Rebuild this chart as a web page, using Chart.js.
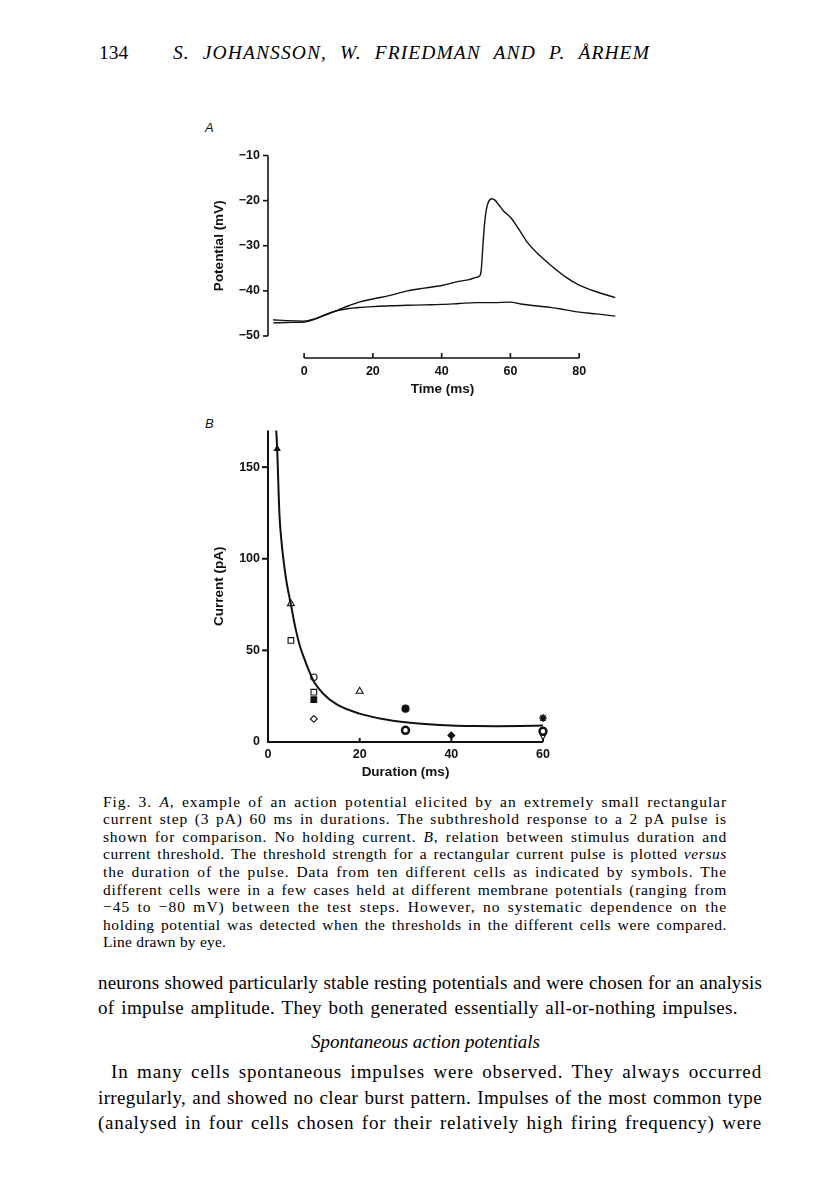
<!DOCTYPE html>
<html><head><meta charset="utf-8">
<script src="https://cdn.jsdelivr.net/npm/chart.js@4.4.1/dist/chart.umd.min.js"></script>
<style>
html,body{margin:0;padding:0;background:#fff;}
body{width:816px;height:1203px;position:relative;overflow:hidden;}
.t{position:absolute;white-space:nowrap;color:#000;font-family:"Liberation Serif","Times New Roman",serif;}
.hd{font-size:19.5px;line-height:22px;}
.cap{font-size:15.5px;line-height:17.5px;}
.bd{font-size:19px;line-height:22px;}
canvas{position:absolute;}
.plab{position:absolute;font-family:"Liberation Sans",Arial,sans-serif;font-style:italic;font-size:13px;line-height:15px;color:#111;}
</style></head><body>

<div class="t hd" style="left:99px;top:41.5px;">134</div>
<div class="t hd" style="left:173px;top:41.5px;font-style:italic;" data-w="477" data-ls="0.5">S. JOHANSSON, W. FRIEDMAN AND P. ÅRHEM</div>

<div class="plab" style="left:205px;top:120px;">A</div>
<canvas id="chartA" width="440" height="257" style="left:200px;top:140px;"></canvas>

<div class="plab" style="left:205px;top:416px;">B</div>
<canvas id="chartB" width="380" height="365" style="left:200px;top:415px;"></canvas>

<div class="t cap" style="left:103px;top:792.5px;" data-w="624">Fig. 3. <i>A</i>, example of an action potential elicited by an extremely small rectangular</div>
<div class="t cap" style="left:103px;top:810.1px;" data-w="624">current step (3 pA) 60 ms in durations. The subthreshold response to a 2 pA pulse is</div>
<div class="t cap" style="left:103px;top:827.7px;" data-w="624">shown for comparison. No holding current. <i>B</i>, relation between stimulus duration and</div>
<div class="t cap" style="left:103px;top:845.3px;" data-w="624">current threshold. The threshold strength for a rectangular current pulse is plotted <i>versus</i></div>
<div class="t cap" style="left:103px;top:862.9px;" data-w="624">the duration of the pulse. Data from ten different cells as indicated by symbols. The</div>
<div class="t cap" style="left:103px;top:880.5px;" data-w="624">different cells were in a few cases held at different membrane potentials (ranging from</div>
<div class="t cap" style="left:103px;top:898.1px;" data-w="624">−45 to −80 mV) between the test steps. However, no systematic dependence on the</div>
<div class="t cap" style="left:103px;top:915.7px;" data-w="624">holding potential was detected when the thresholds in the different cells were compared.</div>
<div class="t cap" style="left:103px;top:933.3px;" data-w="123">Line drawn by eye.</div>

<div class="t bd" style="left:98px;top:971.9px;" data-w="664">neurons showed particularly stable resting potentials and were chosen for an analysis</div>
<div class="t bd" style="left:98px;top:996.9px;" data-w="640">of impulse amplitude. They both generated essentially all-or-nothing impulses.</div>
<div class="t bd" style="left:311px;top:1030.9px;font-style:italic;" data-w="229">Spontaneous action potentials</div>
<div class="t bd" style="left:111px;top:1060.9px;" data-w="651">In many cells spontaneous impulses were observed. They always occurred</div>
<div class="t bd" style="left:98px;top:1086.9px;" data-w="664">irregularly, and showed no clear burst pattern. Impulses of the most common type</div>
<div class="t bd" style="left:98px;top:1111.9px;" data-w="664">(analysed in four cells chosen for their relatively high firing frequency) were</div>

<script>
// ---------- Panel A data ----------
const timeTicks = [0, 20, 40, 60, 80];
const potentialTicks = [-10, -20, -30, -40, -50];
const apTime = [-9, -5, 0, 3, 6, 10, 13, 16, 20, 25, 30, 35, 40, 45, 48, 50, 51, 51.5, 52, 52.5, 53, 53.5, 54.5, 55.5, 56.5, 58, 60, 62, 65, 68, 72, 76, 80, 85, 90.5];
const apPotential = [-47.1, -47.0, -46.9, -46.3, -45.4, -44.2, -43.3, -42.5, -41.8, -41.0, -40.0, -39.4, -38.8, -37.9, -37.5, -37.0, -36.7, -35.5, -30, -25, -22, -20.5, -19.6, -19.9, -20.8, -22.3, -23.7, -25.8, -29.3, -31.8, -34.5, -36.9, -38.7, -40.2, -41.5];
const subTime = [-9, -5, 0, 3, 6, 10, 13, 16, 20, 25, 30, 35, 40, 45, 50, 55, 60, 63, 67, 72, 76, 80, 85, 90.5];
const subPotential = [-46.4, -46.6, -46.7, -46.2, -45.3, -44.3, -43.9, -43.7, -43.5, -43.3, -43.2, -43.1, -43.0, -42.8, -42.6, -42.6, -42.5, -42.9, -43.3, -43.7, -44.2, -44.7, -45.1, -45.6];

// ---------- Panel B data ----------
const durationTicks = [0, 20, 40, 60];
const currentTicks = [0, 50, 100, 150];
const fitDuration = [1.8, 2, 2.5, 3, 3.5, 4, 5, 6, 7, 8, 9, 10, 12, 15, 20, 25, 30, 35, 40, 45, 50, 55, 60];
const fitCurrent = [170, 160, 124, 108, 97, 88, 75, 62, 52, 45, 38.5, 33, 26.5, 20.5, 15.5, 12.6, 10.8, 9.7, 9.0, 8.7, 8.6, 8.7, 9.0];
const cellFilledTriangleDur = [2], cellFilledTriangleCur = [160];
const cellOpenTriangleDur = [5, 20], cellOpenTriangleCur = [75.5, 27.7];
const cellOpenSquareDur = [5, 10], cellOpenSquareCur = [55.4, 27.2];
const cellOpenCircleDur = [10], cellOpenCircleCur = [35.4];
const cellFilledSquareDur = [10], cellFilledSquareCur = [23.1];
const cellOpenDiamondDur = [10], cellOpenDiamondCur = [12.6];
const cellFilledCircleDur = [30], cellFilledCircleCur = [18.2];
const cellRingDur = [30, 60], cellRingCur = [6.4, 5.8];
const cellFilledDiamondDur = [40], cellFilledDiamondCur = [3.6];
const cellStarDur = [60], cellStarCur = [13.1];
const cellInvTriangleDur = [60], cellInvTriangleCur = [3.0];

const INK = '#111';
const tickFont = {family: '"Liberation Sans", Arial, sans-serif', size: 12.5, weight: 'bold'};
const titleFont = {family: '"Liberation Sans", Arial, sans-serif', size: 13.5, weight: 'bold'};
const minus = v => (v < 0 ? '\u2212' + Math.abs(v) : String(v));
const pts = (xs, ys) => xs.map((x, i) => ({x: x, y: ys[i]}));

const axesPlugin = {
  id: 'axes',
  afterDraw(chart, args, o) {
    const ctx = chart.ctx, xs = chart.scales.x, ys = chart.scales.y, ca = chart.chartArea;
    ctx.save();
    ctx.strokeStyle = INK;
    ctx.lineCap = 'butt';
    ctx.lineWidth = o.yWidth;
    const yx = ca.left;
    ctx.beginPath();
    ctx.moveTo(yx, ys.getPixelForValue(o.yTop));
    ctx.lineTo(yx, ys.getPixelForValue(o.yBottom));
    ctx.stroke();
    ys.ticks.forEach(t => {
      if (o.skipYZero && t.value === 0) return;
      const py = ys.getPixelForValue(t.value);
      ctx.beginPath();
      ctx.moveTo(yx - o.yTickLen, py);
      ctx.lineTo(yx, py);
      ctx.stroke();
    });
    ctx.lineWidth = o.xWidth;
    const xy = ca.bottom + o.xOffset;
    const first = xs.ticks[0].value, last = xs.ticks[xs.ticks.length - 1].value;
    ctx.beginPath();
    ctx.moveTo(xs.getPixelForValue(first) - (o.xOffset ? 0 : o.yWidth / 2), xy);
    ctx.lineTo(xs.getPixelForValue(last), xy);
    ctx.stroke();
    xs.ticks.forEach(t => {
      if (o.skipXZero && t.value === 0) return;
      const px = xs.getPixelForValue(t.value);
      ctx.beginPath();
      ctx.moveTo(px, xy);
      ctx.lineTo(px, xy - o.xTickLen);
      ctx.stroke();
    });
    ctx.restore();
  }
};

function baseScale(ticksArr, pad, extra) {
  return Object.assign({
    type: 'linear',
    grid: {display: false, drawTicks: false},
    border: {display: false},
    afterBuildTicks: s => { s.ticks = ticksArr.map(v => ({value: v})); },
    ticks: {font: tickFont, color: INK, autoSkip: false, maxRotation: 0, padding: pad, callback: v => minus(v)}
  }, extra);
}

// ---------- Chart A ----------
new Chart(document.getElementById('chartA'), {
  type: 'line',
  data: {
    datasets: [
      {data: pts(apTime, apPotential), borderColor: INK, borderWidth: 1.4, pointRadius: 0, cubicInterpolationMode: 'monotone', clip: false},
      {data: pts(subTime, subPotential), borderColor: INK, borderWidth: 1.4, pointRadius: 0, cubicInterpolationMode: 'monotone', clip: false}
    ]
  },
  options: {
    responsive: false, animation: false, devicePixelRatio: 1,
    layout: {padding: {top: 15, right: 23, left: 0, bottom: 0}},
    plugins: {legend: {display: false}, tooltip: {enabled: false},
      axes: {yWidth: 1.6, xWidth: 1.6, yTop: -10, yBottom: -50, yTickLen: 5, xOffset: 22, xTickLen: 5}},
    scales: {
      x: baseScale(timeTicks, 28, {min: -10.5, max: 91,
        afterFit: s => { s.height = 61; },
        title: {display: true, text: 'Time (ms)', font: titleFont, color: INK, padding: 0}}),
      y: baseScale(potentialTicks, 8, {min: -50, max: -10,
        afterFit: s => { s.width = 68; },
        title: {display: true, text: 'Potential (mV)', font: titleFont, color: INK, padding: {top: 11, bottom: 0}}})
    }
  },
  plugins: [axesPlugin]
});

// ---------- Chart B ----------
const mk = (xs, ys, style, filled, r, extra) => Object.assign({
  type: 'scatter', data: pts(xs, ys), pointStyle: style, pointRadius: r,
  pointBackgroundColor: filled ? INK : '#fff', pointBorderColor: INK, pointBorderWidth: 1.1, clip: false
}, extra || {});

new Chart(document.getElementById('chartB'), {
  type: 'scatter',
  data: {
    datasets: [
      {type: 'line', data: pts(fitDuration, fitCurrent), borderColor: INK, borderWidth: 2, pointRadius: 0, cubicInterpolationMode: 'monotone', clip: false},
      mk(cellFilledTriangleDur, cellFilledTriangleCur, 'triangle', true, 3.2),
      mk(cellOpenTriangleDur, cellOpenTriangleCur, 'triangle', false, 4),
      mk(cellOpenSquareDur, cellOpenSquareCur, 'rect', false, 4),
      mk(cellOpenCircleDur, cellOpenCircleCur, 'circle', false, 3.2),
      mk(cellFilledSquareDur, cellFilledSquareCur, 'rect', true, 4),
      mk(cellOpenDiamondDur, cellOpenDiamondCur, 'rectRot', false, 3.4),
      mk(cellFilledCircleDur, cellFilledCircleCur, 'circle', true, 3.5),
      mk(cellRingDur, cellRingCur, 'circle', false, 3.5, {pointBorderWidth: 2.5}),
      mk(cellFilledDiamondDur, cellFilledDiamondCur, 'rectRot', true, 3.4),
      mk(cellStarDur, cellStarCur, 'star', false, 3.8, {pointBorderWidth: 1.7}),
      mk(cellInvTriangleDur, cellInvTriangleCur, 'triangle', false, 3, {pointRotation: 180})
    ]
  },
  options: {
    responsive: false, animation: false, devicePixelRatio: 1,
    layout: {padding: {top: 15, right: 37, left: 0, bottom: 0}},
    plugins: {legend: {display: false}, tooltip: {enabled: false},
      axes: {yWidth: 2, xWidth: 2, yTop: 170, yBottom: 0, yTickLen: 6, skipYZero: true, xOffset: 0, xTickLen: 4, skipXZero: true}},
    scales: {
      x: baseScale(durationTicks, 5, {min: 0, max: 60,
        afterFit: s => { s.height = 38; },
        title: {display: true, text: 'Duration (ms)', font: titleFont, color: INK, padding: 0}}),
      y: baseScale(currentTicks, 8, {min: 0, max: 170,
        afterFit: s => { s.width = 68; },
        title: {display: true, text: 'Current (pA)', font: titleFont, color: INK, padding: {top: 11, bottom: 0}}})
    }
  },
  plugins: [axesPlugin]
});

// ---------- fit text lines to the page widths ----------
function fitLine(el) {
  const W = parseFloat(el.dataset.w);
  const share = el.dataset.ls ? parseFloat(el.dataset.ls) : 0.7;
  el.style.letterSpacing = '0px';
  el.style.wordSpacing = '0px';
  const text = el.textContent;
  const n = text.length;
  const nSp = (text.match(/ /g) || []).length;
  let w = el.getBoundingClientRect().width;
  const extra = W - w;
  const ls = extra >= 0 ? extra * share / n : extra / n;
  el.style.letterSpacing = ls + 'px';
  w = el.getBoundingClientRect().width;
  if (nSp) el.style.wordSpacing = ((W - w) / nSp) + 'px';
}
document.querySelectorAll('.t[data-w]').forEach(fitLine);
</script>
</body></html>
